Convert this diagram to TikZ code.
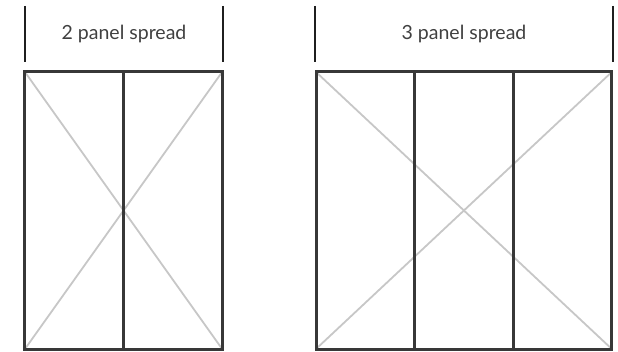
\documentclass[tikz,border=0pt]{standalone}
\usepackage{fontspec}
\setmainfont{Lato}
\usetikzlibrary{positioning, backgrounds}

\begin{document}
\begin{tikzpicture}[x=1pt, y=-1pt,
        panel/.style={rectangle, draw=black!78, line width=3pt, outer sep=0pt, inner sep=0pt, minimum width=98.6pt, minimum height=277pt},
        diagonal/.style={draw=black!22, line width=1.8pt},
        titulo/.style={rectangle, inner sep=0pt, outer sep=0pt, minimum height=56pt, text=black!75, font=\fontsize{19.5}{22}\selectfont},
        tope/.style={draw=black!88, line width=2pt}]
        \useasboundingbox (0,0) rectangle (618,352);
        % dos paneles
        \node[panel] (A) at (74.25,210.5) {};
        \node[panel, right=0pt of A] (B) {};
        \node[titulo, minimum width=198pt] (TA) at (124,34) {2 panel spread};
        \draw[tope] (TA.north west) -- (TA.south west);
        \draw[tope] (TA.north east) -- (TA.south east);
        % tres paneles
        \node[panel] (C) at (365.3,210.5) {};
        \node[panel, right=0pt of C] (D) {};
        \node[panel, right=0pt of D] (E) {};
        \node[titulo, minimum width=298pt] (TC) at (464,34) {3 panel spread};
        \draw[tope] (TC.north west) -- (TC.south west);
        \draw[tope] (TC.north east) -- (TC.south east);
        \begin{scope}[on background layer]
            \draw[diagonal] (A.north west) -- (B.south east);
            \draw[diagonal] (B.north east) -- (A.south west);
            \draw[diagonal] (C.north west) -- (E.south east);
            \draw[diagonal] (E.north east) -- (C.south west);
        \end{scope}
    \end{tikzpicture}
\end{document}
